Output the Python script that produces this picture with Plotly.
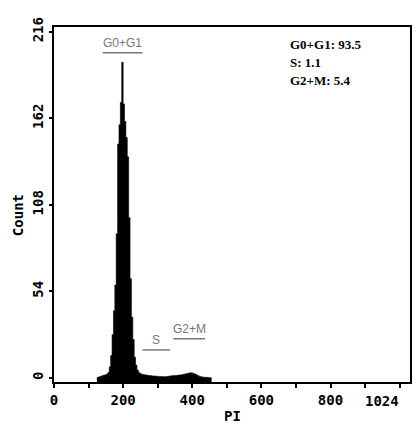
import plotly.graph_objects as go

# ---------------- data ----------------
bin_start = 124          # first channel of the histogram data
bin_width = 4            # channels per bin
counts = [
    0.3, 0.6, 1, 1.2,                              # 124-140
    1.5, 1.8, 2, 2.5, 3.5, 7, 14, 27, 42, 58,      # 140-180
    90, 146, 158, 172, 197, 171, 160, 150, 138, 100,  # 180-220
    62, 38, 24, 13, 8, 5, 3.5, 2.8, 2.4, 2.2,      # 220-260
    2, 1.8, 1.8, 1.6, 1.5, 1.4, 1.3, 1.2, 1.2, 1.1,  # 260-300
    1, 1, 0.9, 0.9, 0.8, 0.8, 0.9, 1.0, 1.2, 1.3,  # 300-340
    1.4, 1.5, 1.5, 1.6, 1.7, 1.8, 1.9, 2.0, 2.2, 2.4,  # 340-380
    2.6, 2.8, 3.0, 3.2, 3.2, 3.0, 2.7, 2.3, 1.8, 1.4,  # 380-420
    1.0, 0.8, 0.6, 0.5, 0.4, 0.4, 0.3, 0.2, 0.1,       # 420-456
]

y_tick_values = [0, 54, 108, 162, 216]
x_tick_values = [0, 100, 200, 300, 400, 500, 600, 700, 800, 900, 1000]
x_tick_labels = ["0", "", "200", "", "400", "", "600", "", "800", "", ""]
x_end_label = "1024"

gate_names = ["G0+G1", "S", "G2+M"]
gate_start = [141, 256, 345]
gate_end = [256, 336, 437]
gate_level = [203, 17.5, 24.5]

stats_lines = ["G0+G1: 93.5", "S: 1.1", "G2+M: 5.4"]

# ---------------- figure ----------------
Y_MIN, Y_MAX = -2.5, 219
X_MIN, X_MAX = 0, 1030

edges = [bin_start + i * bin_width for i in range(len(counts) + 1)]
step_y = counts + [counts[-1]]

fig = go.Figure()
fig.add_trace(go.Scatter(x=[edges[0], edges[-1]], y=[Y_MIN, Y_MIN], mode="lines",
                         line=dict(width=0, color="black"), hoverinfo="skip", showlegend=False))
fig.add_trace(go.Scatter(x=edges, y=step_y, mode="lines", line_shape="hv",
                         line=dict(width=0.6, color="black"), fill="tonexty",
                         fillcolor="black", showlegend=False))

mono = "DejaVu Sans Mono"
tickfont = dict(family=mono, size=14, color="black", weight="bold")

for name, a, b, lvl in zip(gate_names, gate_start, gate_end, gate_level):
    fig.add_shape(type="line", x0=a, x1=b, y0=lvl, y1=lvl,
                  line=dict(color="#777777", width=1.5))
    fig.add_annotation(x=(a + b) / 2, y=lvl, text=name, showarrow=False,
                       yanchor="bottom", yshift=1,
                       font=dict(family="Liberation Sans", size=12, color="#777777"))

for i, line in enumerate(stats_lines):
    fig.add_annotation(xref="paper", yref="paper", x=0.658, y=0.95 - i * 0.051,
                       text="<b>" + line + "</b>", showarrow=False, xanchor="left",
                       yanchor="middle",
                       font=dict(family="Liberation Serif", size=13, color="black"))

fig.add_annotation(x=950, y=0, yref="paper", text=x_end_label, showarrow=False,
                   yanchor="top", yshift=-9, font=tickfont)
fig.add_annotation(xref="paper", yref="paper", x=0.5, y=0, yshift=-24, text="PI",
                   showarrow=False, yanchor="top", font=tickfont)
fig.add_annotation(xref="paper", yref="paper", x=0, xshift=-26, y=0.47, text="Count",
                   textangle=-90, showarrow=False, xanchor="right", font=tickfont)

fig.update_xaxes(range=[X_MIN, X_MAX], tickmode="array", tickvals=x_tick_values,
                 ticktext=x_tick_labels, ticks="outside", ticklen=4, tickwidth=1.5,
                 tickcolor="black", showline=True, linecolor="black", linewidth=2,
                 mirror=True, showgrid=False, zeroline=False, tickfont=tickfont)
fig.update_yaxes(range=[Y_MIN, Y_MAX], tickmode="array", tickvals=y_tick_values,
                 ticks="outside", ticklen=3, tickwidth=1.5, tickcolor="black",
                 showline=True, linecolor="black", linewidth=2, mirror=True,
                 showgrid=False, zeroline=False, tickangle=-90, tickfont=tickfont)

fig.update_layout(width=418, height=426, margin=dict(l=54, r=6, t=27, b=44),
                  plot_bgcolor="white", paper_bgcolor="white", showlegend=False)

fig.write_html("out.html")
